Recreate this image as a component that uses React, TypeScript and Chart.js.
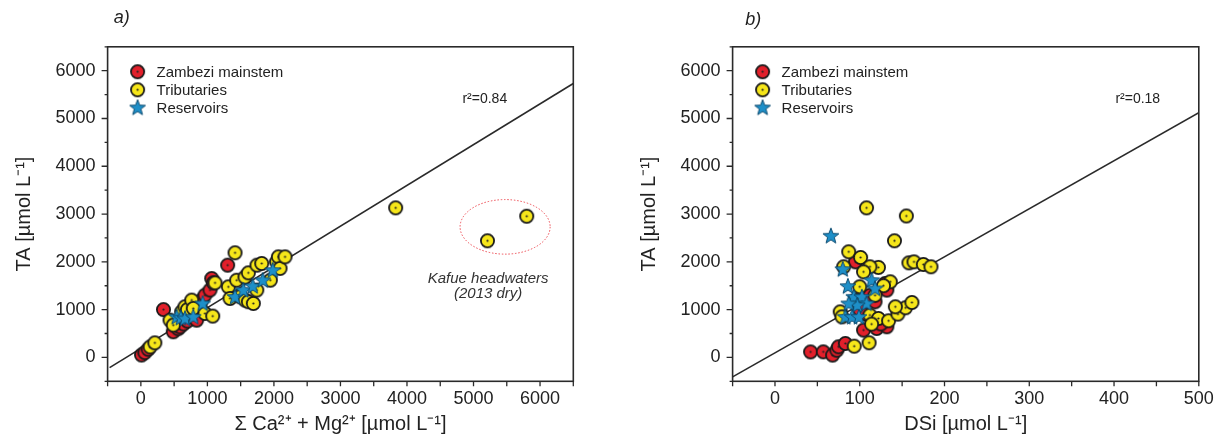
import React, { useEffect, useRef } from 'react';
import { Chart, registerables } from 'chart.js';
Chart.register(...registerables);

// ---------- Panel a: Σ Ca2+ + Mg2+ vs TA ----------
const mainCaMg = [10, 60, 110, 340, 487, 560, 588, 640, 700, 760, 814, 839, 889, 914, 964, 1040, 1065, 1090, 1305];
const mainTA_a = [50, 100, 170, 1000, 536, 600, 640, 700, 760, 850, 920, 780, 1059, 1199, 1303, 1410, 1650, 1560, 1930];
const tribCaMg = [140, 210, 438, 487, 613, 663, 700, 764, 788, 964, 1080, 1115, 1415, 1315, 1340, 1440, 1490, 1566, 1616, 1691, 1565, 1616, 1742, 1745, 1817, 1946, 2040, 2067, 2092, 2167, 3830, 5210, 5800];
const tribTA_a = [220, 305, 780, 676, 955, 1059, 1000, 1199, 1025, 920, 865, 1560, 2190, 1477, 1234, 1615, 1270, 1199, 1165, 1129, 1680, 1770, 1408, 1930, 1966, 1617, 2000, 2105, 1862, 2105, 3130, 2440, 2955];
const resCaMg = [538, 600, 663, 788, 929, 1415, 1540, 1681, 1832, 1982];
const resTA_a = [850, 830, 815, 850, 1130, 1268, 1408, 1492, 1617, 1826];
const fitA_x = [-470, 6500];
const fitA_y = [-213, 5733];

// ---------- Panel b: DSi vs TA ----------
const mainDSi = [42, 57, 68, 73, 75, 83, 95, 104.5, 120, 132, 116, 118, 130, 132, 100, 112, 108, 125];
const mainTA_b = [115, 117, 48, 150, 222, 292, 2000, 571, 606, 641, 1233, 1164, 1547, 1408, 1000, 1300, 900, 700];
const tribDSi = [108, 155, 141, 158, 164, 175, 184, 87, 101, 122, 112, 104.5, 136, 100, 81, 77, 79, 112, 122, 134, 114, 145, 154, 161.5, 142, 93.5, 111, 128, 118, 95];
const tribTA_b = [3130, 2960, 2440, 1979, 2000, 1945, 1896, 2210, 2092, 1883, 1896, 1791, 1582, 1478, 1896, 954, 849, 885, 815, 766, 697, 906, 1038, 1150, 1059, 236, 306, 1500, 1300, 1200];
const resDSi = [66, 80, 86, 114, 118, 93, 102.5, 108, 97, 87, 83, 91, 99];
const resTA_b = [2545, 1847, 1491, 1617, 1443, 1268, 1268, 1129, 1094, 1129, 849, 849, 849];
const fitB_x = [-50, 500];
const fitB_y = [-408, 5120];

const seriesNames = ['Zambezi mainstem', 'Tributaries', 'Reservoirs'];
const yTitle = 'TA [µmol L⁻¹]';
const xTitleA = 'Σ Ca²⁺ + Mg²⁺ [µmol L⁻¹]';
const xTitleB = 'DSi [µmol L⁻¹]';
const r2A = 'r²=0.84';
const r2B = 'r²=0.18';
const noteLines = ['Kafue headwaters', '(2013 dry)'];

const FONT = "'Liberation Sans', Arial, sans-serif";
const H = 445;
const PLOT_TOP = 46.8;
const PLOT_BOTTOM = 381.3;

function circleMarker(fill: string): HTMLCanvasElement {
  const c = document.createElement('canvas');
  const s = 17;
  c.width = s; c.height = s;
  const g = c.getContext('2d')!;
  g.beginPath(); g.arc(s / 2, s / 2, 6.6, 0, Math.PI * 2);
  g.fillStyle = fill; g.fill();
  g.lineWidth = 1.8; g.strokeStyle = '#1a1a1a'; g.stroke();
  g.beginPath(); g.arc(s / 2, s / 2, 1.1, 0, Math.PI * 2);
  g.fillStyle = '#222'; g.fill();
  return c;
}
function starMarker(): HTMLCanvasElement {
  const c = document.createElement('canvas');
  const s = 20;
  c.width = s; c.height = s;
  const g = c.getContext('2d')!;
  const cx = s / 2, cy = s / 2 + 0.5, R = 8.3, r = 3.5;
  g.beginPath();
  for (let i = 0; i < 10; i++) {
    const ang = -Math.PI / 2 + (i * Math.PI) / 5;
    const rad = i % 2 === 0 ? R : r;
    const px = cx + rad * Math.cos(ang), py = cy + rad * Math.sin(ang);
    if (i === 0) g.moveTo(px, py); else g.lineTo(px, py);
  }
  g.closePath();
  g.fillStyle = '#1e8fc8'; g.fill();
  g.lineWidth = 1; g.strokeStyle = '#0c4b70'; g.stroke();
  return c;
}

type Spec = {
  width: number; plotRight: number; panelLabel: string; panelX: number; panelY: number;
  xTitle: string; xMin: number; xMax: number; xStep: number; xMajor: number;
  mx: number[]; my: number[]; tx: number[]; ty: number[]; sx: number[]; sy: number[];
  fx: number[]; fy: number[]; r2: string; r2Pos: [number, number];
  ellipse?: [number, number, number, number]; notePos?: [number, number];
};

const pts = (xs: number[], ys: number[]) => xs.map((x, i) => ({ x, y: ys[i] }));

function makeChart(canvas: HTMLCanvasElement, sp: Spec) {
  const red = circleMarker('#e2202b');
  const yel = circleMarker('#f6e61a');
  const star = starMarker();
  const decor = {
    id: 'decor',
    beforeDatasetsDraw(chart: any) {
      if (!sp.ellipse) return;
      const { ctx, scales: { x, y } } = chart;
      const [ex, ey, rx, ry] = sp.ellipse;
      const cx = x.getPixelForValue(ex), cy = y.getPixelForValue(ey);
      const prx = Math.abs(x.getPixelForValue(ex + rx) - cx);
      const pry = Math.abs(y.getPixelForValue(ey + ry) - cy);
      ctx.save();
      ctx.beginPath();
      ctx.ellipse(cx, cy, prx, pry, 0, 0, Math.PI * 2);
      ctx.setLineDash([1.5, 1.8]);
      ctx.strokeStyle = '#ec4a52';
      ctx.lineWidth = 1;
      ctx.stroke();
      ctx.restore();
    },
    afterDraw(chart: any) {
      const { ctx, chartArea: a, scales: { x, y } } = chart;
      ctx.save();
      ctx.strokeStyle = '#2a2a2a';
      ctx.lineWidth = 1.3;
      ctx.beginPath();
      x.ticks.forEach((t: any) => {
        const px = x.getPixelForValue(t.value);
        ctx.moveTo(px, a.bottom); ctx.lineTo(px, a.bottom + 5);
      });
      y.ticks.forEach((t: any) => {
        const py = y.getPixelForValue(t.value);
        const major = Math.abs(t.value % 1000) < 1e-9;
        ctx.moveTo(a.left, py); ctx.lineTo(a.left - (major ? 6 : 3), py);
      });
      ctx.stroke();
      ctx.lineWidth = 1.6;
      ctx.strokeRect(a.left, a.top, a.right - a.left, a.bottom - a.top);

      // legend
      const imgs = [red, yel, star];
      const ly = [71.7, 89.8, 107.5];
      ctx.font = `15px ${FONT}`;
      ctx.textBaseline = 'middle';
      ctx.textAlign = 'left';
      ctx.fillStyle = '#222';
      imgs.forEach((im, i) => {
        ctx.drawImage(im, a.left + 30 - im.width / 2, ly[i] - im.height / 2);
        ctx.fillText(seriesNames[i], a.left + 49, ly[i] + 1);
      });

      // r2
      ctx.font = `14px ${FONT}`;
      ctx.textAlign = 'center';
      ctx.fillText(sp.r2, x.getPixelForValue(sp.r2Pos[0]), y.getPixelForValue(sp.r2Pos[1]));

      // note
      if (sp.notePos) {
        ctx.font = `italic 15px ${FONT}`;
        ctx.fillStyle = '#333';
        const nx = x.getPixelForValue(sp.notePos[0]);
        const ny = y.getPixelForValue(sp.notePos[1]);
        ctx.fillText(noteLines[0], nx, ny);
        ctx.fillText(noteLines[1], nx, ny + 15);
      }

      // panel label
      ctx.font = `italic 18px ${FONT}`;
      ctx.fillStyle = '#222';
      ctx.fillText(sp.panelLabel, sp.panelX, sp.panelY);
      ctx.restore();
    },
  };

  return new Chart(canvas, {
    type: 'scatter',
    data: {
      datasets: [
        { label: seriesNames[2], data: pts(sp.sx, sp.sy), pointStyle: star as any, pointRadius: 8 },
        { label: seriesNames[1], data: pts(sp.tx, sp.ty), pointStyle: yel as any, pointRadius: 7 },
        { label: seriesNames[0], data: pts(sp.mx, sp.my), pointStyle: red as any, pointRadius: 7 },
        {
          label: 'fit', data: pts(sp.fx, sp.fy), showLine: true, pointRadius: 0,
          borderColor: '#2a2a2a', borderWidth: 1.6, backgroundColor: '#2a2a2a',
        },
      ],
    },
    options: {
      animation: false,
      responsive: false,
      events: [],
      layout: { padding: { left: 0, right: sp.width - sp.plotRight, top: PLOT_TOP, bottom: 0 } },
      plugins: { legend: { display: false }, tooltip: { enabled: false } },
      scales: {
        x: {
          type: 'linear', min: sp.xMin, max: sp.xMax,
          grid: { display: false, drawTicks: false },
          border: { display: false },
          ticks: {
            stepSize: sp.xStep, autoSkip: false, maxRotation: 0, padding: 7,
            color: '#222', font: { family: FONT, size: 18 },
            callback: (v: any) => (Math.abs(Number(v) % sp.xMajor) < 1e-9 ? String(v) : ''),
          },
          title: {
            display: true, text: sp.xTitle, color: '#222',
            font: { family: FONT, size: 20 }, padding: { top: 0, bottom: 9 },
          },
          afterFit: (s: any) => { s.height = H - PLOT_BOTTOM; },
        },
        y: {
          type: 'linear', min: -500, max: 6500,
          grid: { display: false, drawTicks: false },
          border: { display: false },
          ticks: {
            stepSize: 500, autoSkip: false, padding: 12,
            color: '#222', font: { family: FONT, size: 18 },
            callback: (v: any) => (Math.abs(Number(v) % 1000) < 1e-9 ? String(v) : ''),
          },
          title: {
            display: true, text: yTitle, color: '#222',
            font: { family: FONT, size: 20 }, padding: { top: 12, bottom: 0 },
          },
          afterFit: (s: any) => { s.width = 107.6; },
        },
      },
    } as any,
    plugins: [decor],
  });
}

const specA: Spec = {
  width: 614, plotRight: 573.3, panelLabel: 'a)', panelX: 121.7, panelY: 18,
  xTitle: xTitleA, xMin: -500, xMax: 6500, xStep: 500, xMajor: 1000,
  mx: mainCaMg, my: mainTA_a, tx: tribCaMg, ty: tribTA_a, sx: resCaMg, sy: resTA_a,
  fx: fitA_x, fy: fitA_y, r2: r2A, r2Pos: [5170, 5400],
  ellipse: [5475, 2732, 677, 571], notePos: [5220, 1638],
};
const specB: Spec = {
  width: 602, plotRight: 573.8, panelLabel: 'b)', panelX: 128.3, panelY: 20,
  xTitle: xTitleB, xMin: -50, xMax: 500, xStep: 50, xMajor: 100,
  mx: mainDSi, my: mainTA_b, tx: tribDSi, ty: tribTA_b, sx: resDSi, sy: resTA_b,
  fx: fitB_x, fy: fitB_y, r2: r2B, r2Pos: [428, 5400],
};

function Panel({ spec, left }: { spec: Spec; left: number }) {
  const ref = useRef<HTMLCanvasElement>(null);
  useEffect(() => {
    const ch = makeChart(ref.current!, spec);
    return () => ch.destroy();
  }, [spec]);
  return (
    <canvas
      ref={ref}
      width={spec.width}
      height={H}
      style={{ position: 'absolute', left, top: 0, width: spec.width, height: H }}
    />
  );
}

export default function App() {
  return (
    <div style={{ position: 'absolute', left: 0, top: 0, width: 1227, height: H, background: '#fff' }}>
      <Panel spec={specA} left={0} />
      <Panel spec={specB} left={625} />
    </div>
  );
}
